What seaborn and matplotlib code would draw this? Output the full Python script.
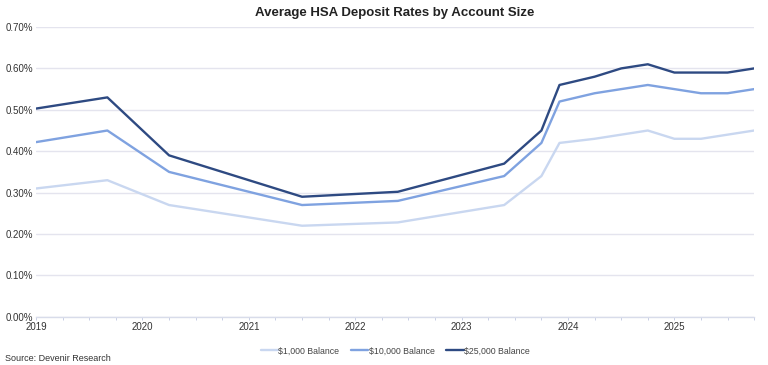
import matplotlib
matplotlib.use("Agg")
import matplotlib.pyplot as plt
import seaborn as sns
import pandas as pd
from matplotlib.ticker import FuncFormatter, MultipleLocator

# Data (fractional year positions, rates in %)
periods = [2019.0, 2019.67, 2020.25, 2021.5, 2022.4, 2023.4, 2023.75, 2023.92,
           2024.25, 2024.5, 2024.75, 2025.0, 2025.25, 2025.5, 2025.75]
bal_1000 = [0.31, 0.33, 0.27, 0.22, 0.228, 0.27, 0.34, 0.42, 0.43, 0.44, 0.45, 0.43, 0.43, 0.44, 0.45]
bal_10000 = [0.422, 0.45, 0.35, 0.27, 0.28, 0.34, 0.42, 0.52, 0.54, 0.55, 0.56, 0.55, 0.54, 0.54, 0.55]
bal_25000 = [0.503, 0.53, 0.39, 0.29, 0.302, 0.37, 0.45, 0.56, 0.58, 0.60, 0.61, 0.59, 0.59, 0.59, 0.60]
series_names = ["$1,000 Balance", "$10,000 Balance", "$25,000 Balance"]
year_ticks = [2019, 2020, 2021, 2022, 2023, 2024, 2025]

df = pd.DataFrame({"period": periods * 3,
                   "rate": bal_1000 + bal_10000 + bal_25000,
                   "series": sum([[n] * len(periods) for n in series_names], [])})

sns.set_theme(style="white")
plt.rcParams["font.family"] = ["Liberation Sans", "DejaVu Sans"]

fig = plt.figure(figsize=(7.68, 3.65), dpi=100)
ax = fig.add_axes([0.047, 0.132, 0.935, 0.794])

palette = {"$1,000 Balance": "#c9d7f0", "$10,000 Balance": "#7fa2e0", "$25,000 Balance": "#2e4a82"}
sns.lineplot(data=df, x="period", y="rate", hue="series", palette=palette,
             linewidth=1.7, ax=ax, legend=True)

ax.set_xlim(2019, 2025.75)
ax.set_ylim(0, 0.70)
ax.yaxis.set_major_locator(MultipleLocator(0.10))
ax.yaxis.set_major_formatter(FuncFormatter(lambda v, p: f"{v:.2f}%"))
ax.set_xticks(year_ticks)
ax.set_xticklabels([str(y) for y in year_ticks])
ax.xaxis.set_minor_locator(MultipleLocator(0.25))
ax.grid(axis="y", color="#e4e4ee", linewidth=1.0)
ax.set_axisbelow(True)
for s in ["top", "right", "left"]:
    ax.spines[s].set_visible(False)
ax.spines["bottom"].set_color("#d8dcea")
ax.spines["bottom"].set_linewidth(1.0)
ax.tick_params(axis="x", which="both", bottom=True, length=2, width=0.6,
               color="#c0c8e0", labelsize=7, pad=2, labelcolor="#333333")
ax.tick_params(axis="y", length=0, labelsize=7, labelcolor="#333333", pad=2)
ax.set_xlabel("")
ax.set_ylabel("")

ax.set_title("Average HSA Deposit Rates by Account Size", fontsize=9.5,
             fontweight="bold", color="#222222", pad=8)

leg = ax.legend(loc="upper center", bbox_to_anchor=(0.5, -0.075), ncol=3, frameon=False,
                fontsize=6.3, handlelength=2.0, handletextpad=0.05, columnspacing=1.3)
for t in leg.get_texts():
    t.set_color("#444444")

fig.text(0.006, 0.01, "Source: Devenir Research", fontsize=6.5, color="#333333")

fig.savefig("out.png", dpi=100)
